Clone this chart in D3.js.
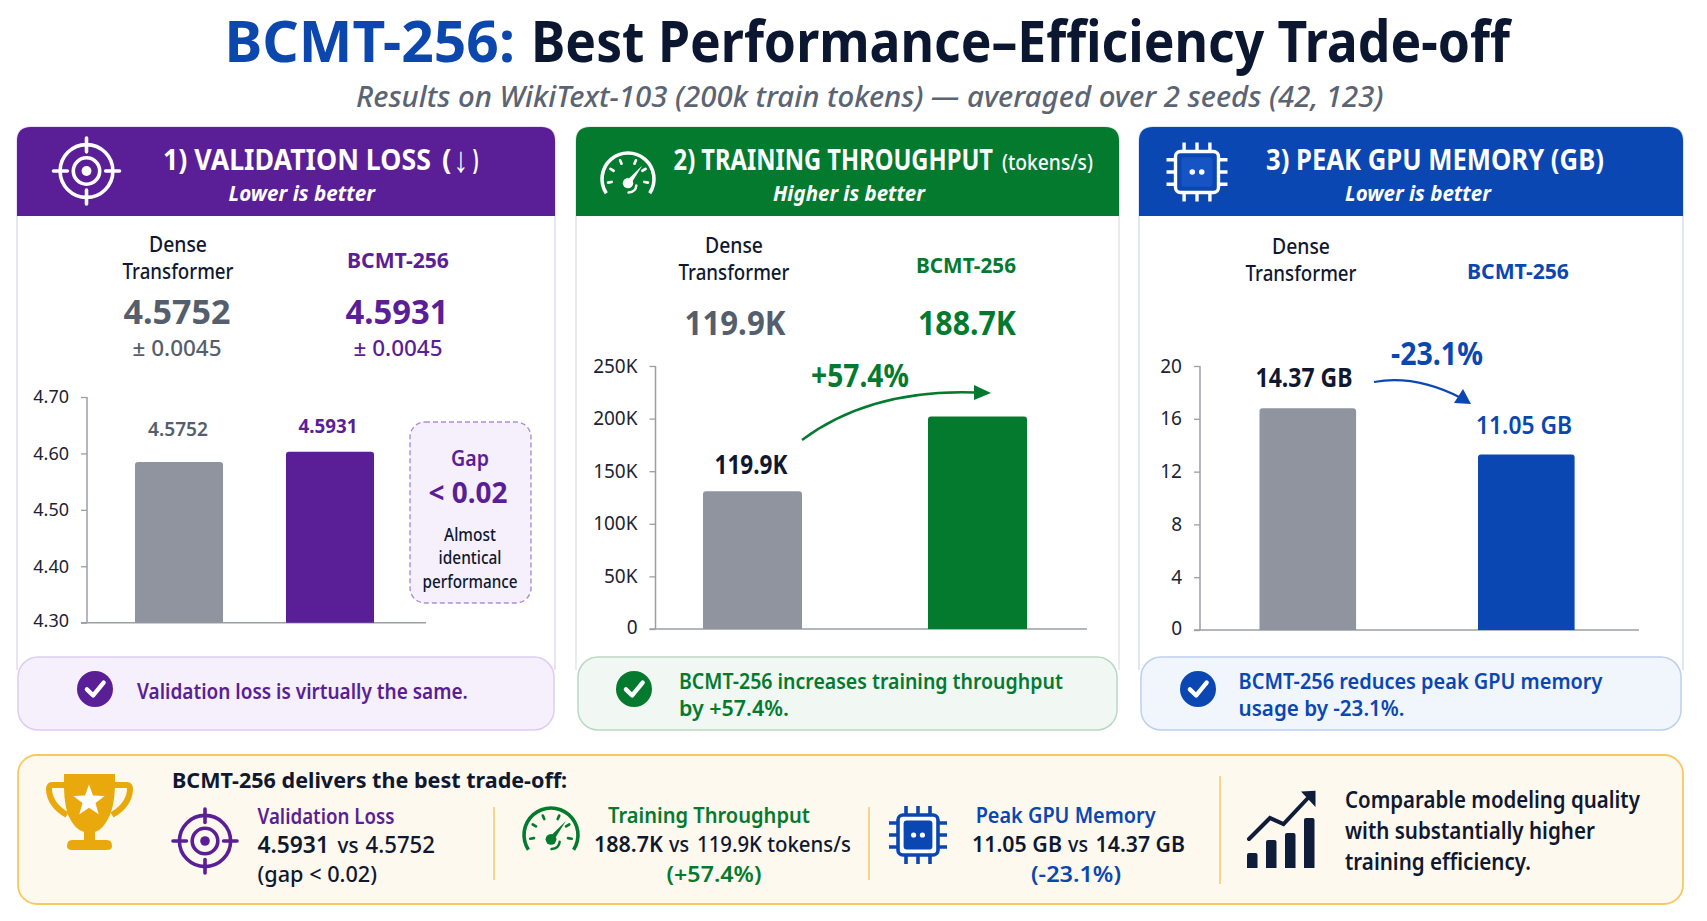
<!DOCTYPE html>
<html><head><meta charset="utf-8">
<script src="https://cdn.jsdelivr.net/npm/d3@7"></script>
<style>html,body{margin:0;padding:0;background:#fff;overflow:hidden}svg{display:block}text{font-family:"Noto Sans",sans-serif}</style>
</head><body><svg id="c" width="1707" height="921"></svg>
<script>
// ---- data ----
const categories = ["Dense Transformer", "BCMT-256"];
const lossBars = [4.585, 4.603];
const lossDomain = [4.30, 4.70];
const lossTicks = [4.30, 4.40, 4.50, 4.60, 4.70];
const lossLabels = ["4.5752", "4.5931"];
const throughputBars = [131000, 202000];
const throughputDomain = [0, 250000];
const throughputTicks = [0, 50000, 100000, 150000, 200000, 250000];
const throughputLabels = ["119.9K", "188.7K"];
const memoryBars = [16.8, 13.3];
const memoryDomain = [0, 20];
const memoryTicks = [0, 4, 8, 12, 16, 20];
const memoryLabels = ["14.37 GB", "11.05 GB"];

const PURPLE="#5a1e96", GREEN="#047a2f", BLUE="#0a47b2", GRAY="#8f949e", INK="#0f1830", SLATE="#555e6c";
const svg=d3.select("#c");
svg.append("rect").attr("width",1707).attr("height",921).attr("fill","#fff");

// text helper: o.w fits the natural width of the string to the width
function T(g,s,x,y,o={}){
  const e=g.append("text").text(s)
    .attr("font-size",o.size||20).attr("font-weight",o.weight||400).attr("fill",o.fill||INK)
    .attr("text-anchor",o.anchor||"start");
  if(o.italic)e.attr("font-style","italic");
  const sx=o.w?o.w/e.node().getComputedTextLength():1;
  e.attr("transform",`translate(${x},${y}) scale(${sx},1)`);
  return e;
}
const ctr={anchor:"middle"};

// title
T(svg,"BCMT-256:",224.5,62,{size:58,weight:700,fill:"#0b47ad",w:290.5});
T(svg,"Best Performance–Efficiency Trade-off",531,62,{size:58,weight:700,fill:"#0b1730",w:979});
T(svg,"Results on WikiText-103 (200k train tokens) — averaged over 2 seeds (42, 123)",356,107,{size:28,italic:true,weight:500,fill:"#5b6472",w:1028});

function topRound(x,y,w,h,r){return `M${x},${y+h}V${y+r}Q${x},${y} ${x+r},${y}H${x+w-r}Q${x+w},${y} ${x+w},${y+r}V${y+h}Z`;}

function target(g,cx,cy,R,c,sw){
  const n=g.append("g").attr("transform",`translate(${cx},${cy})`).attr("fill","none").attr("stroke",c).attr("stroke-width",sw);
  n.append("circle").attr("r",R*.8);
  n.append("circle").attr("r",R*.4);
  n.append("circle").attr("r",R*.15).attr("fill",c).attr("stroke","none");
  [[0,-1],[0,1],[-1,0],[1,0]].forEach(([a,b])=>n.append("line").attr("x1",a*R).attr("y1",b*R).attr("x2",a*R*.58).attr("y2",b*R*.58).attr("stroke-linecap","round"));
}
function gauge(g,cx,cy,R,c,sw){
  const n=g.append("g").attr("transform",`translate(${cx},${cy})`);
  n.append("path").attr("d",d3.arc()({innerRadius:R-sw/2,outerRadius:R+sw/2,startAngle:-2.15,endAngle:2.15,cornerRadius:sw/2})).attr("fill",c);
  [-1.75,-1.05,-0.4,0.4,1.05,1.75].forEach(a=>{
    n.append("line").attr("x1",Math.sin(a)*R*.78).attr("y1",-Math.cos(a)*R*.78).attr("x2",Math.sin(a)*R*.64).attr("y2",-Math.cos(a)*R*.64)
      .attr("stroke",c).attr("stroke-width",sw*.75).attr("stroke-linecap","round");
  });
  n.append("path").attr("d",`M${-R*.1},${R*.12}L${R*.55},${-R*.52}L${R*.14},${R*.14}Z`).attr("fill",c);
  n.append("circle").attr("cx",0).attr("cy",R*.16).attr("r",R*.2).attr("fill",c);
  n.append("path").attr("d",`M${R*.32},${R*.25}Q${R*.3},${R*.5} ${R*.02},${R*.52}`).attr("fill","none").attr("stroke",c).attr("stroke-width",sw*.7).attr("stroke-linecap","round");
}
function chip(g,cx,cy,bw,bh,pin,c,bodyFill,innerFill,dot,sw){
  const n=g.append("g").attr("transform",`translate(${cx},${cy})`);
  [-.3,0,.3].forEach(f=>{
    n.append("line").attr("x1",f*bw).attr("x2",f*bw).attr("y1",-bh/2-pin).attr("y2",bh/2+pin).attr("stroke",c).attr("stroke-width",sw);
    n.append("line").attr("y1",f*bh).attr("y2",f*bh).attr("x1",-bw/2-pin).attr("x2",bw/2+pin).attr("stroke",c).attr("stroke-width",sw);
  });
  n.append("rect").attr("x",-bw/2).attr("y",-bh/2).attr("width",bw).attr("height",bh).attr("rx",5).attr("fill",bodyFill).attr("stroke",c).attr("stroke-width",sw);
  n.append("rect").attr("x",-bw*.36).attr("y",-bh*.36).attr("width",bw*.72).attr("height",bh*.72).attr("rx",3).attr("fill",innerFill);
  [-1,1].forEach(s=>n.append("circle").attr("cx",s*bw*.11).attr("cy",0).attr("r",bw*.065).attr("fill",dot));
}
function check(g,cx,cy,r,c){
  g.append("circle").attr("cx",cx).attr("cy",cy).attr("r",r).attr("fill",c);
  g.append("path").attr("d",`M${cx-r*.45},${cy+r*.02}L${cx-r*.1},${cy+r*.36}L${cx+r*.48},${cy-r*.36}`).attr("fill","none").attr("stroke","#fff").attr("stroke-width",r*.24).attr("stroke-linecap","round").attr("stroke-linejoin","round");
}

function panel(o){
  const g=svg.append("g");
  g.append("path").attr("d",`M${o.x0},670V141Q${o.x0},127 ${o.x0+14},127H${o.x1-14}Q${o.x1},127 ${o.x1},141V670`).attr("fill","#fff").attr("stroke",o.border).attr("stroke-width",1.5);
  g.append("path").attr("d",topRound(o.x0,127,o.x1-o.x0,89,14)).attr("fill",o.color);
  const cb=o.callout;
  g.append("rect").attr("x",cb.x0).attr("y",657).attr("width",cb.x1-cb.x0).attr("height",73).attr("rx",20).attr("fill",o.soft).attr("stroke",o.softStroke).attr("stroke-width",1.5);
  check(g,cb.cx,689,18,o.color);
  const y=d3.scaleLinear().domain(o.domain).range([o.yb,o.yt]);
  const x=d3.scaleBand().domain(categories).range(o.bandRange).paddingInner(o.inner).paddingOuter(0);
  const ax=g.append("g").attr("transform",`translate(${o.ax},0)`)
    .call(d3.axisLeft(y).tickValues(o.ticks).tickFormat(o.fmt).tickSize(6).tickPadding(12));
  ax.selectAll("text").attr("font-size",o.tickSize||19).attr("fill","#1c2333").style("font-family",'"Noto Sans",sans-serif');
  ax.selectAll(".tick").filter(d=>d===o.domain[0]).select("text").attr("y",-2);
  ax.selectAll("line").attr("stroke","#9a9ea6").attr("stroke-width",1.3);
  ax.select(".domain").attr("stroke","#9a9ea6").attr("stroke-width",1.5).attr("d",`M0,${o.yt}V${o.yb}`);
  g.append("line").attr("x1",o.ax-6).attr("x2",o.axisEnd).attr("y1",o.yb).attr("y2",o.yb).attr("stroke","#9a9ea6").attr("stroke-width",1.5);
  g.selectAll(".bar").data(o.bars.map((v,i)=>({v,c:categories[i],i}))).join("path")
    .attr("d",d=>topRound(x(d.c),y(d.v),x.bandwidth(),o.yb-y(d.v),3))
    .attr("fill",d=>d.i===0?GRAY:o.color);
  return {g,x,y};
}
const fmtK=d=>d===0?"0":(d/1000)+"K";

// ---- panel 1 ----
const p1=panel({x0:17,x1:555,color:PURPLE,border:"#e3d9f3",soft:"#f5f0fb",softStroke:"#ddcdf2",callout:{x0:18,x1:554,cx:95},tickSize:18,
  domain:lossDomain,ticks:lossTicks,fmt:d3.format(".2f"),yb:622.7,yt:397,ax:87,axisEnd:426,bandRange:[135,374],inner:.417,bars:lossBars});
target(p1.g,86.5,171,33,"#fff",3.6);
T(p1.g,"1) VALIDATION LOSS",163,170,{size:28,weight:700,fill:"#fff",w:268});
T(p1.g,"(",442,170,{size:28,weight:700,fill:"#fff",w:9.5});
T(p1.g,"↓",461,172,{size:36,weight:400,fill:"#fff",...ctr,w:15});
T(p1.g,")",472.6,170,{size:28,weight:700,fill:"#fff",w:6});
T(p1.g,"Lower is better",228.5,201,{size:21,weight:700,italic:true,fill:"#fff",w:146.5});
T(p1.g,"Dense",178,252,{size:21,weight:500,...ctr,w:58});
T(p1.g,"Transformer",178,279,{size:21,weight:500,...ctr,w:111});
T(p1.g,categories[1],398,268,{size:21,weight:700,fill:PURPLE,...ctr,w:102});
T(p1.g,lossLabels[0],177,323.5,{size:34,weight:700,fill:SLATE,...ctr,w:107});
T(p1.g,lossLabels[1],397,323.5,{size:34,weight:700,fill:PURPLE,...ctr,w:103});
T(p1.g,"± 0.0045",177,356,{size:21,weight:500,fill:SLATE,...ctr,w:89});
T(p1.g,"± 0.0045",398,356,{size:21,weight:500,fill:PURPLE,...ctr,w:89});
T(p1.g,lossLabels[0],178,436,{size:20,weight:600,fill:SLATE,...ctr,w:60});
T(p1.g,lossLabels[1],328,433,{size:20,weight:700,fill:PURPLE,...ctr,w:59});
p1.g.append("rect").attr("x",410).attr("y",422).attr("width",121).attr("height",181).attr("rx",15).attr("fill","#f5f0fb").attr("stroke","#ab8ddb").attr("stroke-width",1.4).attr("stroke-dasharray","5 3");
T(p1.g,"Gap",470,466,{size:21,weight:600,fill:PURPLE,...ctr,w:38});
T(p1.g,"< 0.02",468,503,{size:29,weight:700,fill:PURPLE,...ctr,w:79});
T(p1.g,"Almost",470,541,{size:18,weight:500,...ctr,w:52});
T(p1.g,"identical",470,564,{size:18,weight:500,...ctr,w:63});
T(p1.g,"performance",470,588,{size:18,weight:500,...ctr,w:95});
T(p1.g,"Validation loss is virtually the same.",137,699,{size:21,weight:600,fill:PURPLE,w:331});

// ---- panel 2 ----
const p2=panel({x0:576,x1:1119,color:GREEN,border:"#e2e7e4",soft:"#f1f7f2",softStroke:"#bcd8c4",callout:{x0:578,x1:1117,cx:634},
  domain:throughputDomain,ticks:throughputTicks,fmt:fmtK,yb:629,yt:366,ax:655.5,axisEnd:1087,bandRange:[703,1027],inner:.56,bars:throughputBars});
gauge(p2.g,628,179,26,"#fff",3.6);
T(p2.g,"2) TRAINING THROUGHPUT",673.6,170,{size:28,weight:700,fill:"#fff",w:319.5});
T(p2.g,"(tokens/s)",1002,170,{size:22,weight:500,fill:"#fff",w:91});
T(p2.g,"Higher is better",773,201,{size:21,weight:700,italic:true,fill:"#fff",w:152});
T(p2.g,"Dense",734,253,{size:21,weight:500,...ctr,w:58});
T(p2.g,"Transformer",734,280,{size:21,weight:500,...ctr,w:111});
T(p2.g,categories[1],966,272.6,{size:21,weight:700,fill:GREEN,...ctr,w:100});
T(p2.g,throughputLabels[0],735,335,{size:34,weight:700,fill:SLATE,...ctr,w:101});
T(p2.g,throughputLabels[1],967,335,{size:34,weight:700,fill:GREEN,...ctr,w:98});
T(p2.g,throughputLabels[0],751,474,{size:26,weight:700,fill:INK,...ctr,w:73});
T(p2.g,"+57.4%",860,387,{size:32,weight:700,fill:GREEN,...ctr,w:98});
p2.g.append("path").attr("d","M802,440C845,408 900,390 975,392.5").attr("fill","none").attr("stroke",GREEN).attr("stroke-width",2.4);
p2.g.append("path").attr("d","M974,385L991,393L974,400Z").attr("fill",GREEN);
T(p2.g,"BCMT-256 increases training throughput",679,689,{size:21,weight:600,fill:GREEN,w:384});
T(p2.g,"by +57.4%.",679,716,{size:21,weight:600,fill:GREEN,w:110});

// ---- panel 3 ----
const p3=panel({x0:1139,x1:1683,color:BLUE,border:"#d4e0f5",soft:"#f1f5fc",softStroke:"#bcd0f0",callout:{x0:1141,x1:1681,cx:1198},
  domain:memoryDomain,ticks:memoryTicks,fmt:d=>String(d),yb:630,yt:366,ax:1200,axisEnd:1639,bandRange:[1259.5,1574.6],inner:.558,bars:memoryBars});
chip(p3.g,1197,172,43,41,9,"#fff",BLUE,"#1554c2","#fff",3.4);
T(p3.g,"3) PEAK GPU MEMORY (GB)",1266,170,{size:28,weight:700,fill:"#fff",w:338});
T(p3.g,"Lower is better",1345,201,{size:21,weight:700,italic:true,fill:"#fff",w:146});
T(p3.g,"Dense",1301,253.5,{size:21,weight:500,...ctr,w:58});
T(p3.g,"Transformer",1301,281,{size:21,weight:500,...ctr,w:111});
T(p3.g,categories[1],1518,279,{size:21,weight:700,fill:BLUE,...ctr,w:102});
T(p3.g,memoryLabels[0],1304,387,{size:26,weight:700,fill:INK,...ctr,w:97});
T(p3.g,memoryLabels[1],1524,434,{size:26,weight:600,fill:BLUE,...ctr,w:96});
T(p3.g,"-23.1%",1437,365,{size:33,weight:700,fill:BLUE,...ctr,w:92});
p3.g.append("path").attr("d","M1374,382C1402,377 1432,383 1461,398").attr("fill","none").attr("stroke",BLUE).attr("stroke-width",2.2);
p3.g.append("path").attr("d","M1454,403L1463,389L1471,404Z").attr("fill",BLUE);
T(p3.g,"BCMT-256 reduces peak GPU memory",1238.6,689,{size:21,weight:600,fill:BLUE,w:364});
T(p3.g,"usage by -23.1%.",1238.6,716,{size:21,weight:600,fill:BLUE,w:166});

// ---- bottom band ----
const b=svg.append("g");
b.append("rect").attr("x",18).attr("y",755).attr("width",1665).attr("height",149).attr("rx",19).attr("fill","#fef9ee").attr("stroke","#f7c95f").attr("stroke-width",1.8);
const TROPHY="#e9a90d";
b.append("path").attr("d","M64,774H115Q116,800 110,815Q103,830 95,832V840H107Q112,840 112,846Q112,850 107,850H72Q67,850 67,846Q67,840 72,840H84V832Q75,830 68,815Q63,800 64,774Z").attr("fill",TROPHY);
b.append("path").attr("d","M66,785H52Q49,785 49,790Q50,805 67,815").attr("fill","none").attr("stroke",TROPHY).attr("stroke-width",6);
b.append("path").attr("d","M113,785H127Q130,785 130,790Q129,805 112,815").attr("fill","none").attr("stroke",TROPHY).attr("stroke-width",6);
const star=d3.range(10).map(i=>{const r=i%2?6.8:16.5,a=i*Math.PI/5;return [89+Math.sin(a)*r,801-Math.cos(a)*r];});
b.append("path").attr("d",d3.line()(star)+"Z").attr("fill","#fff");
T(b,"BCMT-256 delivers the best trade-off:",172,788,{size:22,weight:700,fill:INK,w:395.5});

target(b,205,841,32,PURPLE,3.6);
T(b,"Validation Loss",257.5,824,{size:21,weight:600,fill:PURPLE,w:137});
T(b,lossLabels[1],257.5,853,{size:23,weight:600,w:71.5});
T(b,"vs",337.5,853,{size:22,w:21,weight:500});
T(b,lossLabels[0],365.5,853,{size:23,weight:500,w:69.5});
T(b,"(gap < 0.02)",257.5,882,{size:22,weight:500,w:119.5});

const sep=(x,y0,y1)=>b.append("line").attr("x1",x).attr("x2",x).attr("y1",y0).attr("y2",y1).attr("stroke","#f3c96b").attr("stroke-width",1.5);
sep(494,807,880);sep(869,807,880);sep(1220,776,884);

gauge(b,551,835,27,GREEN,3.6);
T(b,"Training Throughput",709,823,{size:21,weight:600,fill:GREEN,...ctr,w:202});
T(b,throughputLabels[1],594,852,{size:22,weight:600,w:69});
T(b,"vs",669,852,{size:21,w:20,weight:500});
T(b,throughputLabels[0]+" tokens/s",697,852,{size:22,weight:500,w:154});
T(b,"(+57.4%)",714,882,{size:22,weight:600,fill:GREEN,...ctr,w:95});

chip(b,918,835,40,40,9,BLUE,"#fff",BLUE,"#fff",3.6);
T(b,"Peak GPU Memory",1065.6,823,{size:21,weight:600,fill:BLUE,...ctr,w:180});
T(b,memoryLabels[1],972,852,{size:22,weight:600,w:90});
T(b,"vs",1068,852,{size:21,w:20,weight:500});
T(b,memoryLabels[0],1095.6,852,{size:22,weight:600,w:89.5});
T(b,"(-23.1%)",1076,882,{size:22,weight:600,fill:BLUE,...ctr,w:90});

// growth icon
[[1247,853],[1266,840],[1285,833],[1304,818]].forEach(([x,t])=>{
  b.append("path").attr("d",topRound(x,t,10.5,868-t,2)).attr("fill","#0f1c3a");
});
b.append("path").attr("d","M1249,839L1270,818L1283.5,824L1307,799").attr("fill","none").attr("stroke","#0f1c3a").attr("stroke-width",4).attr("stroke-linecap","round").attr("stroke-linejoin","miter");
b.append("path").attr("d","M1301,791.5L1315.5,790.7L1315.5,807Z").attr("fill","#0f1c3a");
T(b,"Comparable modeling quality",1345,808,{size:23,weight:600,w:295});
T(b,"with substantially higher",1345,839,{size:23,weight:600,w:250});
T(b,"training efficiency.",1345,870,{size:23,weight:600,w:186});
</script></body></html>
